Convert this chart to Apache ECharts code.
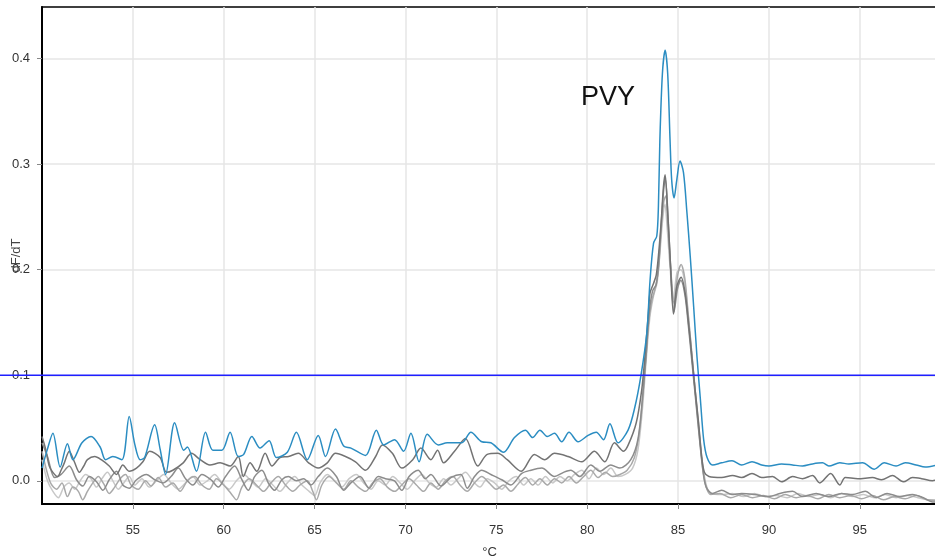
<!DOCTYPE html>
<html>
<head>
<meta charset="utf-8">
<script src="https://cdn.jsdelivr.net/npm/echarts@6/dist/echarts.min.js"></script>
<style>
  html, body { margin: 0; padding: 0; background: #fff; }
  #chart { width: 935px; height: 560px; }
</style>
</head>
<body>
<div id="chart"></div>
<script>
// melt curve, dF/dT vs temperature; pairs are [°C, dF/dT]
const blue = [
  [50.0,0.012],[50.3,0.03],[50.6,0.045],[51.0,0.013],[51.4,0.035],[51.7,0.02],[52.2,0.036],[52.7,0.042],
  [53.2,0.032],[53.5,0.02],[53.9,0.023],[54.4,0.02],[54.8,0.061],[55.1,0.035],[55.4,0.02],[55.65,0.022],
  [56.2,0.053],[56.5,0.03],[56.8,0.006],[57.3,0.055],[57.8,0.029],[58.0,0.032],[58.5,0.009],[59.0,0.046],
  [59.4,0.029],[59.9,0.029],[60.35,0.046],[60.8,0.023],[61.1,0.025],[61.55,0.042],[62.0,0.031],[62.5,0.038],
  [62.9,0.022],[63.5,0.027],[64.0,0.046],[64.6,0.02],[65.2,0.043],[65.6,0.023],[66.15,0.049],[66.6,0.033],
  [67.0,0.031],[67.8,0.024],[68.4,0.048],[68.8,0.034],[69.4,0.039],[69.9,0.028],[70.3,0.045],[70.75,0.018],
  [71.2,0.044],[71.8,0.034],[72.3,0.036],[73.1,0.036],[73.6,0.046],[74.2,0.037],[74.7,0.036],[75.4,0.027],
  [76.0,0.041],[76.6,0.048],[77.0,0.041],[77.4,0.048],[77.8,0.042],[78.2,0.045],[78.6,0.037],[79.0,0.046],
  [79.5,0.037],[80.05,0.043],[80.5,0.046],[80.9,0.039],[81.25,0.054],[81.7,0.036],[82.25,0.048],[82.6,0.068],
  [82.96,0.1],[83.28,0.14],[83.46,0.19],[83.65,0.225],[83.83,0.232],[83.92,0.26],[84.0,0.323],[84.14,0.386],
  [84.29,0.408],[84.43,0.386],[84.56,0.323],[84.65,0.285],[84.78,0.268],[84.93,0.285],[85.11,0.303],[85.3,0.292],
  [85.49,0.254],[85.67,0.213],[85.86,0.165],[86.04,0.118],[86.23,0.077],[86.41,0.039],[86.6,0.022],[86.9,0.015],
  [87.4,0.017],[87.97,0.019],[88.5,0.015],[89.07,0.018],[89.6,0.015],[90.0,0.014],[90.7,0.016],[91.3,0.015],
  [91.85,0.014],[92.4,0.016],[92.95,0.017],[93.3,0.014],[93.9,0.017],[94.4,0.016],[95.15,0.017],[95.8,0.011],
  [96.35,0.017],[97.0,0.014],[97.5,0.017],[98.1,0.015],[98.6,0.013],[99.25,0.015]
];
const grayDark = [
  [50.0,0.042],[50.2,0.03],[50.4,0.014],[50.6,0.008],[50.86,0.004],[51.05,0.01],[51.23,0.017],[51.5,0.028],
  [51.78,0.018],[52.06,0.008],[52.3,0.014],[52.5,0.02],[52.9,0.023],[53.26,0.02],[53.7,0.014],[54.1,0.006],
  [54.45,0.015],[54.8,0.009],[55.2,0.012],[55.55,0.018],[55.93,0.028],[56.5,0.022],[56.85,0.008],[57.2,0.01],
  [57.77,0.017],[58.23,0.026],[58.7,0.02],[59.24,0.015],[59.8,0.017],[60.35,0.014],[60.8,0.023],[61.08,0.004],
  [61.45,0.017],[61.82,0.009],[62.28,0.026],[62.65,0.014],[63.1,0.022],[63.57,0.023],[64.1,0.026],[64.67,0.017],
  [65.2,0.012],[65.7,0.017],[66.15,0.026],[66.7,0.023],[67.25,0.018],[67.8,0.01],[68.36,0.023],[68.73,0.034],
  [69.28,0.026],[69.8,0.012],[70.4,0.02],[70.85,0.031],[71.4,0.02],[71.77,0.029],[72.1,0.017],[72.7,0.028],
  [73.3,0.04],[73.98,0.014],[74.5,0.025],[75.08,0.026],[75.6,0.02],[76.37,0.009],[77.1,0.025],[77.66,0.02],
  [78.2,0.026],[78.95,0.023],[79.7,0.018],[80.4,0.028],[80.97,0.018],[81.5,0.036],[82.0,0.028],[82.26,0.034],
  [82.7,0.055],[83.0,0.086],[83.18,0.118],[83.37,0.159],[83.46,0.178],[83.65,0.187],[83.8,0.195],[83.92,0.213],
  [84.07,0.245],[84.2,0.279],[84.29,0.29],[84.43,0.254],[84.56,0.213],[84.75,0.158],[84.93,0.184],[85.17,0.193],
  [85.39,0.178],[85.58,0.149],[85.76,0.118],[85.94,0.086],[86.13,0.055],[86.3,0.023],[86.45,0.008],[86.7,0.004],
  [87.4,0.003],[88.0,0.005],[88.5,0.003],[89.07,0.007],[89.6,0.003],[90.2,0.004],[90.7,-0.001],[91.3,0.004],
  [91.85,0.002],[92.4,0.005],[92.8,-0.002],[93.4,0.007],[93.9,-0.004],[94.2,0.003],[94.9,0.002],[95.7,0.003],
  [96.2,0.001],[96.8,0.005],[97.4,-0.001],[97.9,0.003],[98.4,0.002],[99.0,0.0],[99.25,0.001]
];
const grayMid = [
  [50.0,0.036],[50.3,0.023],[50.7,0.003],[51.05,0.006],[51.5,0.014],[51.9,0.001],[52.24,-0.005],[52.6,0.004],
  [53.0,-0.001],[53.35,-0.009],[53.7,0.001],[54.1,0.009],[54.45,-0.004],[54.8,-0.007],[55.2,0.001],[55.75,0.006],
  [56.2,0.001],[56.66,-0.002],[57.1,0.004],[57.5,0.012],[57.9,0.002],[58.3,-0.004],[58.8,0.006],[59.3,0.001],
  [59.7,-0.006],[60.1,0.004],[60.6,0.014],[61.0,0.001],[61.35,-0.009],[61.7,0.004],[62.1,0.01],[62.45,-0.002],
  [62.8,-0.009],[63.2,0.001],[63.55,0.004],[64.0,0.0],[64.4,0.002],[64.8,-0.004],[65.2,0.004],[65.7,0.012],
  [66.2,0.004],[66.6,-0.009],[67.0,-0.002],[67.5,0.004],[68.0,-0.007],[68.5,0.004],[68.9,0.002],[69.4,0.0],
  [69.8,-0.009],[70.2,0.004],[70.7,0.01],[71.1,0.002],[71.4,0.006],[71.95,-0.005],[72.5,0.003],[73.05,0.006],
  [73.4,-0.007],[73.8,0.004],[74.2,0.01],[74.7,0.006],[75.3,0.001],[75.8,-0.004],[76.4,0.007],[76.9,0.01],
  [77.5,0.012],[78.2,0.004],[78.7,0.008],[79.1,0.01],[79.6,0.004],[80.2,0.015],[80.7,0.009],[81.3,0.015],
  [81.8,0.012],[82.4,0.02],[82.8,0.04],[83.05,0.08],[83.25,0.12],[83.42,0.16],[83.6,0.18],[83.8,0.186],
  [83.95,0.21],[84.1,0.25],[84.22,0.278],[84.3,0.286],[84.45,0.25],[84.6,0.2],[84.78,0.16],[84.97,0.182],
  [85.15,0.19],[85.38,0.176],[85.58,0.145],[85.78,0.11],[85.98,0.075],[86.18,0.04],[86.38,0.008],[86.55,-0.006],
  [86.9,-0.012],[87.4,-0.009],[87.97,-0.013],[88.5,-0.012],[89.2,-0.013],[90.0,-0.015],[90.6,-0.012],[91.3,-0.01],
  [91.85,-0.015],[92.6,-0.012],[93.3,-0.015],[94.0,-0.012],[94.6,-0.013],[95.3,-0.01],[95.9,-0.016],[96.5,-0.012],
  [97.2,-0.015],[97.9,-0.013],[98.5,-0.016],[99.0,-0.02],[99.25,-0.02]
];
const grayLight = [
  [50.0,0.028],[50.25,0.01],[50.5,-0.003],[50.8,-0.008],[51.1,-0.002],[51.4,-0.015],[51.7,-0.006],[52.0,-0.01],
  [52.24,-0.018],[52.5,-0.01],[52.8,-0.002],[53.1,0.004],[53.4,-0.003],[53.7,-0.012],[54.0,-0.006],[54.3,0.002],
  [54.6,0.006],[54.9,-0.004],[55.3,-0.008],[55.7,0.0],[56.0,-0.005],[56.4,0.003],[56.8,-0.006],[57.2,-0.002],
  [57.6,-0.01],[58.0,0.0],[58.4,0.004],[58.8,-0.004],[59.2,-0.008],[59.6,0.002],[60.0,-0.004],[60.4,-0.012],
  [60.7,-0.018],[61.0,-0.006],[61.4,0.002],[61.8,-0.004],[62.2,-0.01],[62.6,-0.002],[63.0,0.004],[63.4,-0.004],
  [63.8,-0.01],[64.2,-0.004],[64.6,0.0],[64.9,-0.01],[65.1,-0.018],[65.4,-0.004],[65.8,0.004],[66.2,-0.002],
  [66.6,-0.008],[67.0,0.0],[67.4,-0.006],[67.8,-0.01],[68.2,-0.002],[68.6,0.002],[69.0,-0.006],[69.4,-0.01],
  [69.8,-0.004],[70.2,0.002],[70.6,-0.004],[71.0,-0.01],[71.4,-0.002],[71.8,-0.008],[72.2,0.0],[72.6,0.004],
  [73.0,-0.004],[73.4,-0.01],[73.8,-0.002],[74.2,0.004],[74.6,-0.002],[75.0,-0.008],[75.4,-0.004],[75.8,-0.01],
  [76.2,-0.003],[76.6,0.003],[77.0,-0.004],[77.4,0.002],[77.8,-0.004],[78.2,0.002],[78.6,-0.002],[79.0,0.004],
  [79.4,-0.002],[79.8,0.004],[80.2,0.01],[80.6,0.003],[81.0,0.008],[81.4,0.004],[81.8,0.006],[82.2,0.01],
  [82.6,0.022],[82.9,0.05],[83.15,0.1],[83.35,0.145],[83.55,0.17],[83.75,0.183],[83.92,0.2],[84.08,0.24],
  [84.22,0.265],[84.32,0.27],[84.45,0.24],[84.6,0.2],[84.78,0.168],[84.98,0.195],[85.17,0.205],[85.37,0.192],
  [85.56,0.158],[85.76,0.12],[85.96,0.082],[86.16,0.045],[86.36,0.012],[86.55,-0.006],[86.8,-0.013],[87.3,-0.012],
  [87.9,-0.016],[88.5,-0.013],[89.1,-0.016],[89.7,-0.014],[90.3,-0.017],[90.9,-0.013],[91.5,-0.016],[92.1,-0.014],
  [92.7,-0.017],[93.3,-0.013],[93.9,-0.016],[94.5,-0.014],[95.1,-0.017],[95.7,-0.014],[96.3,-0.018],[96.9,-0.015],
  [97.5,-0.017],[98.1,-0.014],[98.7,-0.018],[99.25,-0.019]
];
const grayPale = [
  [50.0,0.02],[50.3,0.0],[50.6,-0.01],[50.9,-0.016],[51.2,-0.006],[51.5,-0.002],[51.8,-0.008],[52.1,0.0],
  [52.4,0.006],[52.7,0.002],[53.0,-0.006],[53.3,0.002],[53.6,0.008],[53.9,0.0],[54.2,-0.008],[54.5,-0.002],
  [54.8,0.004],[55.1,-0.004],[55.5,0.002],[55.9,-0.006],[56.3,0.0],[56.7,0.006],[57.1,-0.002],[57.5,-0.008],
  [57.9,-0.002],[58.3,0.004],[58.7,-0.004],[59.1,0.0],[59.5,0.006],[59.9,-0.002],[60.3,-0.008],[60.7,0.0],
  [61.1,0.006],[61.5,0.0],[61.9,-0.006],[62.3,0.002],[62.7,-0.004],[63.1,-0.01],[63.5,-0.002],[63.9,0.004],
  [64.3,-0.004],[64.7,-0.01],[65.0,-0.014],[65.3,-0.002],[65.7,0.006],[66.1,0.0],[66.5,-0.006],[66.9,0.002],
  [67.3,0.006],[67.7,-0.002],[68.1,-0.008],[68.5,0.0],[68.9,-0.004],[69.3,0.004],[69.7,-0.002],[70.1,-0.008],
  [70.5,0.0],[70.9,0.006],[71.3,-0.002],[71.7,-0.006],[72.1,0.002],[72.5,-0.004],[72.9,0.002],[73.3,0.008],
  [73.7,0.0],[74.1,-0.006],[74.5,0.002],[74.9,-0.002],[75.3,-0.008],[75.7,0.0],[76.1,0.004],[76.5,-0.004],
  [76.9,0.002],[77.3,-0.004],[77.7,0.004],[78.1,-0.002],[78.5,0.004],[78.9,0.0],[79.3,0.006],[79.7,0.01],
  [80.1,0.002],[80.5,0.012],[80.9,0.006],[81.3,0.012],[81.7,0.004],[82.1,0.006],[82.5,0.012],[82.8,0.03],
  [83.05,0.07],[83.25,0.115],[83.45,0.155],[83.65,0.175],[83.85,0.188],[84.0,0.215],[84.14,0.245],[84.28,0.262],
  [84.4,0.24],[84.55,0.205],[84.74,0.172],[84.95,0.198],[85.15,0.2],[85.35,0.19],[85.55,0.158],[85.75,0.122],
  [85.95,0.085],[86.15,0.05],[86.35,0.016],[86.55,-0.004],[86.8,-0.012],[87.4,-0.013],[88.0,-0.012],[88.6,-0.015],
  [89.2,-0.012],[89.8,-0.015],[90.4,-0.014],[91.0,-0.016],[91.6,-0.012],[92.2,-0.015],[92.8,-0.013],[93.4,-0.016],
  [94.0,-0.012],[94.6,-0.015],[95.2,-0.013],[95.8,-0.016],[96.4,-0.013],[97.0,-0.016],[97.6,-0.014],[98.2,-0.016],
  [98.8,-0.018],[99.25,-0.018]
];
const threshold = 0.1;
const xRange = [50, 99.25];
const yRange = [-0.022, 0.449];

const chart = echarts.init(document.getElementById("chart"));
const font = "Liberation Sans, Arial, sans-serif";

function curve(name, data, color, z) {
  return {
    name: name,
    type: "line",
    data: data,
    showSymbol: false,
    smooth: 0.3,
    z: z,
    lineStyle: { color: color, width: 1.5 },
    emphasis: { disabled: true }
  };
}

chart.setOption({
  animation: false,
  backgroundColor: "#fff",
  grid: {
    left: 42, right: -2, top: 7, bottom: 56,
    containLabel: false,
    outerBoundsMode: "none",
    show: true, borderColor: "#000", borderWidth: 1.5
  },
  title: {
    text: "PVY",
    left: 576, top: 79,
    textStyle: { fontFamily: font, fontSize: 27, fontWeight: "normal", color: "#111" }
  },
  xAxis: {
    type: "value",
    min: xRange[0], max: xRange[1],
    interval: 5,
    name: "°C",
    nameLocation: "middle",
    nameGap: 42,
    nameMoveOverlap: false,
    nameTextStyle: { fontFamily: font, fontSize: 13, color: "#333" },
    axisLine: { onZero: false, lineStyle: { color: "#000", width: 2 } },
    axisTick: { show: true, length: 5, lineStyle: { color: "#888" } },
    axisLabel: { fontFamily: font, fontSize: 13, color: "#333", margin: 20, showMinLabel: false, showMaxLabel: false },
    splitLine: { show: true, showMinLine: false, showMaxLine: false, lineStyle: { color: "#e6e6e6", width: 1.5 } }
  },
  yAxis: {
    type: "value",
    min: yRange[0], max: yRange[1],
    name: "dF/dT",
    nameLocation: "middle",
    nameGap: 19,
    nameRotate: 90,
    nameMoveOverlap: false,
    nameTextStyle: { fontFamily: font, fontSize: 13, color: "#444" },
    axisLine: { show: true, onZero: false, lineStyle: { color: "#000", width: 2 } },
    axisTick: { show: true, length: 5, lineStyle: { color: "#888" } },
    axisLabel: {
      fontFamily: font, fontSize: 13, color: "#333", margin: 12,
      showMinLabel: false, showMaxLabel: false,
      formatter: (v) => v.toFixed(1)
    },
    splitLine: { show: true, showMinLine: false, showMaxLine: false, lineStyle: { color: "#e6e6e6", width: 1.5 } }
  },
  series: [
    curve("s5", grayPale, "#c8c8c8", 2),
    curve("s4", grayLight, "#a9a9a9", 3),
    curve("s3", grayMid, "#8c8c8c", 4),
    curve("s2", grayDark, "#737373", 5),
    curve("s1", blue, "#2b8dc2", 6)
  ]
});

// threshold line runs across the whole width, axis area included
const yPix = chart.convertToPixel({ yAxisIndex: 0 }, threshold);
chart.setOption({
  graphic: [{
    type: "line",
    z: 100,
    shape: { x1: 0, y1: yPix, x2: 935, y2: yPix },
    style: { stroke: "#1f1fff", lineWidth: 1.5 }
  }]
});
</script>
</body>
</html>
